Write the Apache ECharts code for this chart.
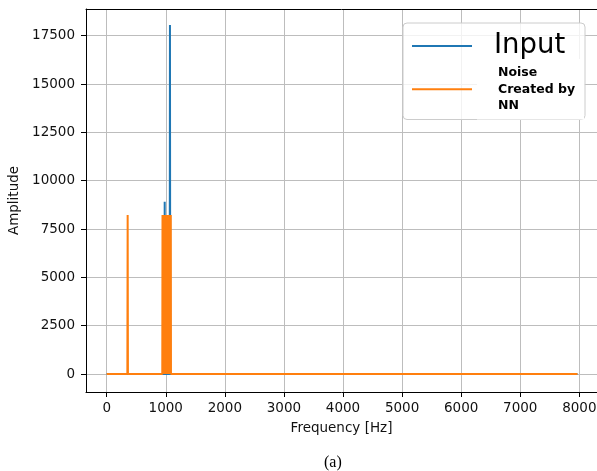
<!DOCTYPE html>
<html>
<head>
<meta charset="utf-8">
<script src="https://cdn.jsdelivr.net/npm/echarts@6/dist/echarts.min.js"></script>
<style>html,body{margin:0;padding:0;background:#fff;}#c{width:597px;height:471px;}</style>
</head>
<body>
<div id="c"></div>
<script>
// ---- data ----
const inputName = 'Input';
const noiseName = 'Noise\nCreated by\nNN';
const inputFreq = [0, 978, 982, 986, 1066, 1071, 1076, 7968];
const inputAmp  = [0, 0, 8910, 0, 0, 18050, 0, 0];
const noiseFreq = [0, 350, 355, 360, 941, 945, 950, 955, 960, 965, 970, 975, 980, 985, 990, 995, 1000, 1005, 1010, 1015, 1020, 1025, 1030, 1035, 1040, 1045, 1050, 1055, 1060, 1065, 1070, 1075, 1080, 1085, 1088, 7968];
const noiseAmp  = [0, 0, 8230, 0, 0, 8230, 0, 8230, 0, 8230, 0, 8230, 0, 8230, 0, 8230, 0, 8230, 0, 8230, 0, 8230, 0, 8230, 0, 8230, 0, 8230, 0, 8230, 0, 8230, 0, 8230, 0, 0];
const xTicks = [0, 1000, 2000, 3000, 4000, 5000, 6000, 7000, 8000];
const yTicks = [0, 2500, 5000, 7500, 10000, 12500, 15000, 17500];

const zip = (a, b) => a.map((v, i) => [v, b[i]]);
const FONT = 'DejaVu Sans';
const TXT = '#111';
const plain = v => String(v);

const chart = echarts.init(document.getElementById('c'), null, {renderer: 'canvas'});
chart.setOption({
  animation: false,
  backgroundColor: '#fff',
  color: ['#1f77b4', '#ff7f0e'],
  title: {
    text: '(a)', left: 319, top: 450,
    textStyle: {fontFamily: 'Liberation Serif', fontWeight: 'normal', fontSize: 16, color: '#000'}
  },
  grid: {left: 86, top: 9, right: 0, bottom: 79, containLabel: false, outerBoundsMode: 'none'},
  legend: {
    orient: 'vertical', left: 403, top: 23,
    padding: [9, 1, 0, 9],
    itemGap: -1, itemWidth: 60, itemHeight: 2, icon: 'rect',
    backgroundColor: 'rgba(255,255,255,0.8)', borderColor: '#cccccc', borderWidth: 1, borderRadius: 4,
    data: [
      {name: inputName, textStyle: {fontFamily: FONT, fontSize: 27.5, lineHeight: 28, padding: [0, 0, 0, 17], color: '#000'}},
      {name: noiseName, textStyle: {fontFamily: FONT, fontSize: 12.5, fontWeight: 'bold', lineHeight: 16.5, padding: [11, 0, 0, 21], width: 86, backgroundColor: '#fff', color: '#000'}}
    ]
  },
  xAxis: [{
    type: 'value', min: -350, max: 8299,
    name: 'Frequency [Hz]', nameLocation: 'middle', nameGap: 29,
    nameTextStyle: {fontFamily: FONT, fontSize: 13.5, color: TXT},
    axisLine: {show: true, onZero: false, lineStyle: {color: '#000', width: 1}},
    axisTick: {show: true, length: 5, lineStyle: {color: '#000', width: 1}, customValues: xTicks},
    axisLabel: {show: true, margin: 9, fontFamily: FONT, fontSize: 13.5, color: TXT, customValues: xTicks, formatter: plain},
    splitLine: {show: true, lineStyle: {color: '#bdbdbd', width: 1}}
  }, {
    type: 'value', position: 'top', min: -350, max: 8299,
    axisLine: {show: true, onZero: false, lineStyle: {color: '#000', width: 1}},
    axisTick: {show: false}, axisLabel: {show: false}, splitLine: {show: false}
  }],
  yAxis: {
    type: 'value', min: -931, max: 18883,
    name: 'Amplitude', nameLocation: 'middle', nameGap: 59, nameRotate: 90,
    nameTextStyle: {fontFamily: FONT, fontSize: 13.5, color: TXT},
    axisLine: {show: true, onZero: false, lineStyle: {color: '#000', width: 1}},
    axisTick: {show: true, length: 5, lineStyle: {color: '#000', width: 1}, customValues: yTicks},
    axisLabel: {show: true, margin: 11, fontFamily: FONT, fontSize: 13.5, color: TXT, customValues: yTicks, formatter: plain},
    splitLine: {show: true, lineStyle: {color: '#bdbdbd', width: 1}}
  },
  series: [
    {name: inputName, type: 'line', xAxisIndex: 0, data: zip(inputFreq, inputAmp), symbol: 'none', lineStyle: {width: 2}, z: 2},
    {name: noiseName, type: 'line', xAxisIndex: 0, data: zip(noiseFreq, noiseAmp), symbol: 'none', lineStyle: {width: 2}, z: 3}
  ]
});
</script>
</body>
</html>
